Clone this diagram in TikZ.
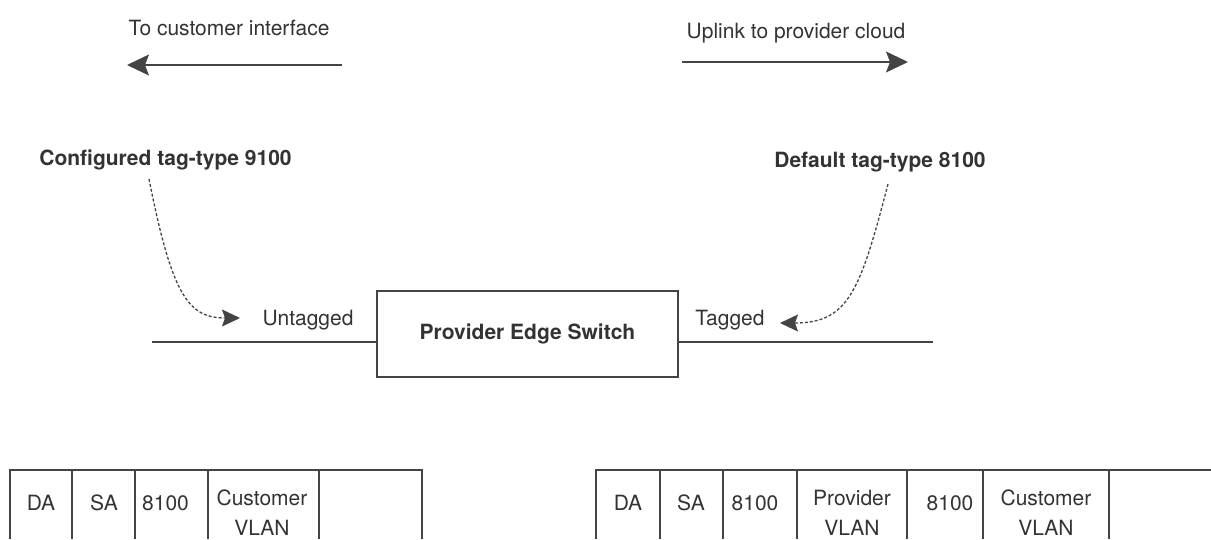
\documentclass[tikz,border=0pt]{standalone}
\usepackage{fontspec}
\setmainfont{TeX Gyre Heros}
\usepackage{tikz}
\usetikzlibrary{arrows.meta,positioning,calc}
\definecolor{inkgray}{HTML}{333333}
\definecolor{linegray}{HTML}{444444}

\begin{document}
\begin{tikzpicture}[
    x=1pt, y=-1pt,
    every node/.style={text=inkgray, font=\fontsize{21}{30}\selectfont},
    caption/.style={anchor=base},
    tagnote/.style={anchor=base, font=\fontsize{21}{30}\selectfont\bfseries},
    switchbox/.style={draw=linegray, line width=2.2pt, minimum width=301pt, minimum height=86pt, font=\fontsize{21}{30}\selectfont\bfseries},
    cell/.style={align=center, inner sep=0pt},
    link/.style={draw=linegray, line width=1.3pt},
    frame/.style={draw=linegray, line width=1.1pt},
    direction/.style={draw=linegray, line width=1.3pt, -{Stealth[length=22pt, width=21pt, inset=4pt]}},
    pointer/.style={draw=linegray, line width=1.3pt, dash pattern=on 3pt off 2pt, -{Stealth[length=18pt, width=17pt, inset=3pt]}}
]
    \useasboundingbox (0,0) rectangle (1211,539);

    % direction hints
    \node[caption] (custlabel) at (229,35) {To customer interface};
    \coordinate (custfrom) at (342,65);
    \coordinate (custto) at (127,65);
    \draw[direction] (custfrom) -- (custto);
    \node[caption] (uplabel) at (796,38) {Uplink to provider cloud};
    \coordinate (upfrom) at (682,62);
    \coordinate (upto) at (908,62);
    \draw[direction] (upfrom) -- (upto);

    % switch and its ports
    \node[switchbox] (switch) at (527.5,334) {Provider Edge Switch};
    \coordinate (custport) at (152,342);
    \coordinate (provport) at (933,342);
    \draw[link] (custport) -- (custport -| switch.west);
    \draw[link] (switch.east |- provport) -- (provport);
    \node[caption] (untagged) at (308,325) {Untagged};
    \node[caption] (tagged) at (730,325) {Tagged};

    % tag-type notes
    \node[tagnote] (cfgtag) at (165.5,165) {Configured tag-type 9100};
    \node[tagnote] (deftag) at (880,167) {Default tag-type 8100};
    \coordinate (cfgstart) at (149,179);
    \coordinate (cfgtip) at (240,318);
    \draw[pointer] (cfgstart) .. controls (172,295) and (188,318) .. (cfgtip);
    \coordinate (defstart) at (888,184);
    \coordinate (deftip) at (780,323);
    \draw[pointer] (defstart) .. controls (860,292) and (848,323) .. (deftip);

    % customer frame
    \draw[frame] (10,539) |- (422,470) -- (422,539);
    \foreach \x in {72,135,208,319}
        \draw[frame] (\x,470) -- (\x,539);
    \node[cell] (cda) at (41,503) {DA};
    \node[cell] (csa) at (104,503) {SA};
    \node[cell] (ctpid) at (165.5,503) {8100};
    \node[cell] (cvlan) at (262,513) {Customer\\VLAN};

    % provider frame
    \draw[frame] (596,539) |- (1211,470);
    \foreach \x in {660,723,797,907,983,1109}
        \draw[frame] (\x,470) -- (\x,539);
    \node[cell] (pda) at (628,503) {DA};
    \node[cell] (psa) at (691,503) {SA};
    \node[cell] (ptpid) at (755,503) {8100};
    \node[cell] (pvlan) at (852,513) {Provider\\VLAN};
    \node[cell] (ctpid2) at (950,503) {8100};
    \node[cell] (cvlan2) at (1046,513) {Customer\\VLAN};
\end{tikzpicture}
\end{document}
